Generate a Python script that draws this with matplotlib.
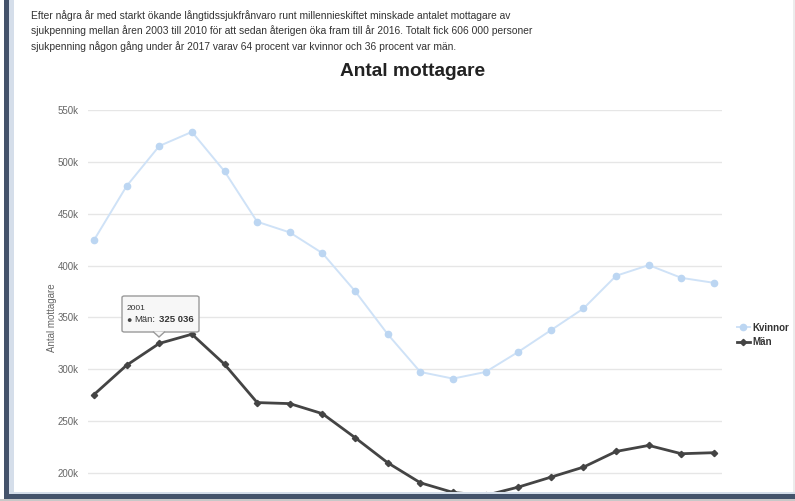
import numpy as np
import matplotlib
matplotlib.use('Agg')
import matplotlib.pyplot as plt
from matplotlib.patches import Rectangle, FancyBboxPatch, Polygon

# ── Data ─────────────────────────────────────────────────────────────────────
years = list(range(1999, 2019))
kvinnor = [424.6, 476.7, 515.3, 528.9, 490.9, 442.3, 432.0, 412.0, 375.4, 333.9,
           297.5, 291.1, 297.5, 316.8, 337.7, 358.7, 390.2, 400.5, 388.2, 383.4]
man = [275.7, 304.0, 325.0, 333.9, 304.9, 268.0, 267.0, 257.3, 234.2, 210.0,
       190.7, 181.4, 178.5, 186.5, 196.1, 205.8, 220.9, 226.7, 218.7, 219.7]
y_ticks = [200, 250, 300, 350, 400, 450, 500, 550]

intro = ("Efter några år med starkt ökande långtidssjukfrånvaro runt millennieskiftet minskade antalet mottagare av\n"
         "sjukpenning mellan åren 2003 till 2010 för att sedan återigen öka fram till år 2016. Totalt fick 606 000 personer\n"
         "sjukpenning någon gång under år 2017 varav 64 procent var kvinnor och 36 procent var män.")

plt.rcParams['font.family'] = ['Liberation Sans', 'DejaVu Sans']

W, H = 795, 501
fig = plt.figure(figsize=(W / 100, H / 100), dpi=100)
fig.patch.set_facecolor('white')

def fx(px):
    return px / W

def fy(py):
    return 1 - py / H

# plot area: x 88..722, y 110 (550k) .. 525 (150k)
ax = fig.add_axes([fx(88), fy(525), fx(722 - 88), (525 - 110) / H])
ax.set_facecolor('none')
ax.set_ylim(150, 550)
ax.set_xlim(1999 - 6 / 32.63, 2018 + 8 / 32.63)
for s in ax.spines.values():
    s.set_visible(False)
ax.set_yticks(y_ticks)
ax.set_yticklabels([f'{v}k' for v in y_ticks], fontsize=7, color='#666666')
ax.tick_params(axis='y', length=0, pad=6.5)
ax.set_xticks([])
ax.yaxis.grid(True, color='#e6e6e6', linewidth=1)
ax.set_axisbelow(True)
ax.set_ylabel('Antal mottagare', fontsize=7, color='#666666', labelpad=1)

ax.plot(years, kvinnor, color='#cfe2f7', linewidth=1.4, marker='o',
        markersize=4.5, markerfacecolor='#bcd6f2', markeredgecolor='#bcd6f2',
        label='Kvinnor', zorder=3, clip_on=False)
ax.plot(years, man, color='#444444', linewidth=2, marker='D',
        markersize=3.2, markerfacecolor='#444444', markeredgecolor='#444444',
        label='Män', zorder=3)

leg = ax.legend(loc='center left', bbox_to_anchor=((733 - 88) / (722 - 88), (525 - 335) / 415),
                frameon=False, fontsize=7, handlelength=1.3, handletextpad=0.3,
                labelspacing=0.5, borderaxespad=0)
for t in leg.get_texts():
    t.set_fontweight('bold')
    t.set_color('#333333')

# title and intro text
fig.text(fx(413), fy(71), 'Antal mottagare', ha='center', va='center',
         fontsize=13.8, fontweight='bold', color='#222222')
fig.text(fx(31), fy(10), intro, ha='left', va='top', fontsize=7.4,
         color='#333333', linespacing=1.5)

# tooltip
box = FancyBboxPatch((fx(122), fy(332)), fx(199 - 122), (332 - 296) / H,
                     boxstyle='round,pad=0,rounding_size=0.003',
                     transform=fig.transFigure, facecolor='#f7f7f7',
                     edgecolor='#9a9a9a', linewidth=1, zorder=10)
fig.add_artist(box)
arrow = Polygon([[fx(153), fy(331.5)], [fx(159), fy(337)], [fx(165), fy(331.5)]],
                closed=False, transform=fig.transFigure, facecolor='#f7f7f7',
                edgecolor='#9a9a9a', linewidth=1, zorder=11)
fig.add_artist(arrow)
fig.text(fx(127), fy(308), str(years[2]), fontsize=6, color='#333333',
         va='center', ha='left', zorder=12)
fig.text(fx(126.5), fy(320), '\u25cf', fontsize=6.5, color='#444444',
         va='center', ha='left', zorder=12)
fig.text(fx(134), fy(320), 'Män:', fontsize=6.8, color='#333333',
         va='center', ha='left', zorder=12)
fig.text(fx(159), fy(320), f'{man[2] * 1000 + 36:,.0f}'.replace(',', ' '),
         fontsize=6.8, fontweight='bold', color='#333333',
         va='center', ha='left', zorder=12)

# page frame
dark = '#44536b'
light = '#d5deea'
fig.add_artist(Rectangle((fx(4), 0), fx(5), 1, transform=fig.transFigure,
                         facecolor=dark, edgecolor='none', zorder=20))
fig.add_artist(Rectangle((fx(9), 0), fx(5), 1, transform=fig.transFigure,
                         facecolor=light, edgecolor='none', zorder=19))
fig.add_artist(Rectangle((0, 0), 1, 2 / H, transform=fig.transFigure,
                         facecolor='#c8c8c8', edgecolor='none', zorder=21))
fig.add_artist(Rectangle((fx(4), 2 / H), 1, 5 / H, transform=fig.transFigure,
                         facecolor=dark, edgecolor='none', zorder=21))
fig.add_artist(Rectangle((fx(9), 7 / H), 1, 2 / H, transform=fig.transFigure,
                         facecolor=light, edgecolor='none', zorder=20))
fig.add_artist(Rectangle((fx(793), 0), fx(2), 1, transform=fig.transFigure,
                         facecolor='#ececec', edgecolor='none', zorder=18))

fig.savefig('out.png', dpi=100, facecolor='white')
